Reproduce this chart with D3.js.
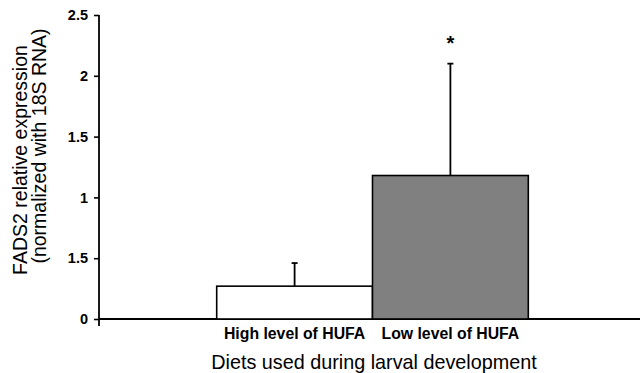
<!DOCTYPE html>
<html>
<head>
<meta charset="utf-8">
<script src="https://cdn.jsdelivr.net/npm/d3@7"></script>
<style>
  body { margin: 0; background: #fff; }
  text { font-family: "Liberation Sans", Arial, sans-serif; fill: #000; }
</style>
</head>
<body>
<div id="chart"></div>
<script>
// data ************************************************************
var categories = ["High level of HUFA", "Low level of HUFA"];
var means = [0.27, 1.18];
var errors = [0.19, 0.92];
var barColors = ["#ffffff", "#808080"];
var significant = [false, true];
var tickValues = [0, 0.5, 1, 1.5, 2, 2.5];
var tickLabels = ["0", "1.5", "1", "1.5", "2", "2.5"]; // as printed in the figure

// sizes ************************************************************
var width = 643, height = 373;
var axisX = 99, axisY = 319;

var svg = d3.select("#chart").append("svg")
  .attr("width", width)
  .attr("height", height);

var y = d3.scaleLinear().domain([0, 2.5]).range([axisY, 15]);
var x = d3.scaleBand().domain(categories).range([216.7, 528.3]).padding(0);

// y axis ************************************************************
var yAxis = d3.axisLeft(y)
  .tickValues(tickValues)
  .tickFormat(function(d, i) { return tickLabels[i]; })
  .tickSize(5)
  .tickPadding(6);

var gy = svg.append("g")
  .attr("transform", "translate(" + axisX + ",0)")
  .call(yAxis);
gy.select(".domain").remove();
gy.selectAll(".tick line").attr("stroke", "#000").attr("stroke-width", 1.6);
gy.selectAll(".tick text")
  .style("font-size", "14.5px")
  .style("font-weight", "bold")
  .style("font-family", "Liberation Sans, Arial, sans-serif");
gy.append("line")
  .attr("x1", 0).attr("x2", 0)
  .attr("y1", y(2.5)).attr("y2", axisY + 7)
  .attr("stroke", "#000").attr("stroke-width", 1.8);

// x axis line
svg.append("line")
  .attr("x1", axisX).attr("x2", 640)
  .attr("y1", axisY).attr("y2", axisY)
  .attr("stroke", "#000").attr("stroke-width", 1.8);

// bars ************************************************************
var rows = categories.map(function(c, i) {
  return { cat: c, mean: means[i], err: errors[i], color: barColors[i], sig: significant[i] };
});

svg.selectAll(".bar")
  .data(rows)
  .enter()
  .append("rect")
  .attr("class", "bar")
  .attr("x", function(d) { return x(d.cat); })
  .attr("width", x.bandwidth())
  .attr("y", function(d) { return y(d.mean); })
  .attr("height", function(d) { return y(0) - y(d.mean); })
  .attr("fill", function(d) { return d.color; })
  .attr("stroke", "#000")
  .attr("stroke-width", 1.6);

// error bars (upper only)
var errG = svg.selectAll(".err")
  .data(rows)
  .enter()
  .append("g")
  .attr("class", "err");

errG.append("line")
  .attr("x1", function(d) { return x(d.cat) + x.bandwidth() / 2; })
  .attr("x2", function(d) { return x(d.cat) + x.bandwidth() / 2; })
  .attr("y1", function(d) { return y(d.mean); })
  .attr("y2", function(d) { return y(d.mean + d.err); })
  .attr("stroke", "#000").attr("stroke-width", 1.8);

errG.append("line")
  .attr("x1", function(d) { return x(d.cat) + x.bandwidth() / 2 - 3; })
  .attr("x2", function(d) { return x(d.cat) + x.bandwidth() / 2 + 3; })
  .attr("y1", function(d) { return y(d.mean + d.err); })
  .attr("y2", function(d) { return y(d.mean + d.err); })
  .attr("stroke", "#000").attr("stroke-width", 1.8);

// significance star
svg.selectAll(".star")
  .data(rows.filter(function(d) { return d.sig; }))
  .enter()
  .append("text")
  .attr("class", "star")
  .attr("x", function(d) { return x(d.cat) + x.bandwidth() / 2; })
  .attr("y", function(d) { return y(d.mean + d.err) - 14; })
  .attr("text-anchor", "middle")
  .style("font-size", "20px")
  .style("font-weight", "bold")
  .text("*");

// category labels ************************************************************
svg.selectAll(".cat")
  .data(categories)
  .enter()
  .append("text")
  .attr("class", "cat")
  .attr("x", function(d) { return x(d) + x.bandwidth() / 2; })
  .attr("y", 339)
  .attr("text-anchor", "middle")
  .style("font-size", "15.8px")
  .style("font-weight", "bold")
  .text(function(d) { return d; });

// axis titles ************************************************************
svg.append("text")
  .attr("x", 374)
  .attr("y", 369)
  .attr("text-anchor", "middle")
  .style("font-size", "19.8px")
  .text("Diets used during larval development");

svg.append("text")
  .attr("transform", "rotate(-90)")
  .attr("x", -160)
  .attr("y", 27)
  .attr("text-anchor", "middle")
  .style("font-size", "19.5px")
  .text("FADS2 relative expression");

svg.append("text")
  .attr("transform", "rotate(-90)")
  .attr("x", -146)
  .attr("y", 46)
  .attr("text-anchor", "middle")
  .style("font-size", "19.5px")
  .text("(normalized with 18S RNA)");
</script>
</body>
</html>
